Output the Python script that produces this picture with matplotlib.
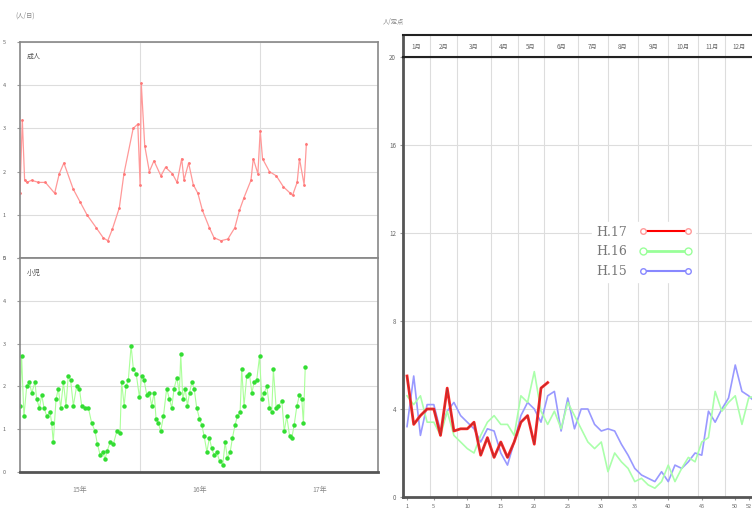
import matplotlib
matplotlib.use("Agg")
import matplotlib.pyplot as plt
from matplotlib.lines import Line2D

plt.rcParams['font.family'] = ['Noto Sans CJK JP', 'DejaVu Sans']

# --- Left chart: weekly counts since week 1 of H15 ---
adult_weeks = [0, 1, 2, 3, 5, 8, 11, 15, 17, 19, 23, 26, 29, 33, 36, 38, 40, 43, 45,
               49, 51, 52, 52.5, 54, 56, 58, 61, 63, 66, 68, 70, 71, 73, 75, 77, 79,
               82, 84, 87, 90, 93, 95, 97, 100, 101, 103, 104, 105, 108, 111, 114,
               117, 118, 120, 121, 123, 124]
adult_vals = [1.5, 3.2, 1.8, 1.75, 1.8, 1.75, 1.75, 1.5, 1.95, 2.2, 1.6, 1.3, 1.0, 0.7,
              0.47, 0.4, 0.67, 1.16, 1.95, 3.0, 3.1, 1.7, 4.05, 2.6, 2.0, 2.25, 1.9,
              2.1, 1.95, 1.75, 2.3, 1.8, 2.2, 1.7, 1.5, 1.1, 0.7, 0.47, 0.4, 0.44,
              0.7, 1.1, 1.4, 1.8, 2.3, 1.95, 2.95, 2.3, 2.0, 1.9, 1.65, 1.5, 1.45,
              1.75, 2.3, 1.7, 2.65]

child_weeks = [0.0, 0.7, 1.7, 2.9, 4.0, 5.1, 6.5, 7.2, 8.4, 9.4, 10.4, 11.6, 13.0, 13.7,
               14.4, 15.6, 16.6, 17.6, 18.8, 19.9, 20.9, 21.9, 23.1, 24.5, 25.7, 26.7,
               28.2, 29.6, 31.0, 32.5, 33.5, 34.7, 35.8, 36.8, 37.8, 39.0, 40.4, 41.9,
               43.3, 44.0, 45.1, 45.9, 46.9, 48.1, 49.1, 50.3, 51.7, 52.7, 53.7, 54.9,
               56.0, 57.0, 58.1, 58.9, 59.9, 60.9, 62.1, 63.5, 64.7, 65.7, 66.7, 67.9,
               69.0, 69.6, 70.5, 71.5, 72.5, 73.4, 74.4, 75.4, 76.5, 77.7, 78.7, 79.7,
               80.9, 82.0, 83.0, 84.0, 85.2, 86.4, 87.8, 88.8, 89.8, 91.0, 92.0, 93.1,
               94.1, 95.3, 96.0, 97.0, 98.2, 99.3, 100.4, 101.4, 102.5, 103.7, 104.7,
               105.7, 106.9, 108.0, 109.0, 109.7, 110.9, 111.9, 113.4, 114.4, 115.5,
               116.7, 117.7, 118.7, 119.9, 121.0, 122.0, 122.7, 123.5]
child_vals = [1.55, 2.7, 1.3, 2.0, 2.1, 1.85, 2.1, 1.7, 1.5, 1.8, 1.5, 1.3, 1.4, 1.15,
              0.7, 1.7, 1.95, 1.5, 2.1, 1.55, 2.25, 2.15, 1.55, 2.0, 1.95, 1.55, 1.5,
              1.5, 1.15, 0.95, 0.65, 0.4, 0.47, 0.3, 0.5, 0.7, 0.65, 0.95, 0.9, 2.1,
              1.55, 2.0, 2.15, 2.95, 2.4, 2.3, 1.75, 2.25, 2.15, 1.8, 1.85, 1.55, 1.85,
              1.25, 1.15, 0.95, 1.3, 1.95, 1.7, 1.5, 1.95, 2.2, 1.85, 2.75, 1.7, 1.95,
              1.55, 1.85, 2.1, 1.95, 1.5, 1.25, 1.1, 0.85, 0.47, 0.8, 0.55, 0.4, 0.47,
              0.25, 0.17, 0.7, 0.32, 0.47, 0.8, 1.1, 1.3, 1.4, 2.4, 1.55, 2.25, 2.3,
              1.85, 2.1, 2.15, 2.7, 1.7, 1.85, 2.0, 1.5, 1.4, 2.4, 1.5, 1.55, 1.65,
              0.95, 1.3, 0.85, 0.8, 1.1, 1.55, 1.8, 1.7, 1.15, 2.45]

year_labels = ['15年', '16年', '17年']
year_edges = [52, 104]

# --- Right chart: per-sentinel weekly counts by season ---
h17 = [5.5, 3.3, 3.7, 4.0, 4.0, 2.8, 4.95, 3.0, 3.1, 3.1, 3.4, 1.9, 2.7, 1.8, 2.5, 1.8,
       2.5, 3.4, 3.7, 2.4, 4.95, 5.2]
h16 = [4.6, 4.2, 4.6, 3.4, 3.4, 2.8, 3.9, 2.8, 2.5, 2.2, 2.0, 2.8, 3.4, 3.7, 3.3, 3.3,
       2.8, 4.6, 4.3, 5.7, 3.9, 3.3, 3.9, 3.1, 4.3, 3.7, 3.1, 2.5, 2.2, 2.5, 1.15, 2.0,
       1.6, 1.3, 0.7, 0.85, 0.55, 0.4, 0.7, 1.45, 0.7, 1.3, 1.8, 1.6, 2.5, 2.7, 4.8,
       3.9, 4.3, 4.6, 3.3, 4.5, 4.6]
h15 = [3.2, 5.5, 2.8, 4.2, 4.2, 3.0, 3.9, 4.3, 3.7, 3.4, 3.1, 2.5, 3.1, 3.0, 2.0, 1.45,
       2.5, 3.7, 4.3, 4.0, 3.4, 4.6, 4.8, 3.0, 4.5, 3.1, 4.0, 4.0, 3.3, 3.0, 3.1, 3.0,
       2.4, 1.9, 1.3, 1.0, 0.85, 0.7, 1.15, 0.7, 1.45, 1.3, 1.6, 2.0, 1.9, 3.9, 3.4,
       4.0, 4.5, 6.0, 4.8, 4.6, 4.3]
week_ticks = [1, 5, 10, 15, 20, 25, 30, 35, 40, 45, 50, 52]
month_labels = ['1月', '2月', '3月', '4月', '5月', '6月', '7月', '8月', '9月', '10月', '11月', '12月']
month_edges = [4.5, 8.5, 13.5, 17.5, 21.5, 26.5, 31, 35.5, 40, 44.5, 48.5]

W, H = 752, 517
fig = plt.figure(figsize=(W / 100, H / 100), dpi=100)


def box(x0, y0, x1, y1):
    return [x0 / W, 1 - y1 / H, (x1 - x0) / W, (y1 - y0) / H]


GRID = '#dddddd'
TXT = '#666666'

ax_top = fig.add_axes(box(20, 42, 378, 258))
ax_bot = fig.add_axes(box(20, 258, 378, 472))
for ax in (ax_top, ax_bot):
    ax.set_xlim(0, 155)
    ax.set_ylim(0, 5)
    ax.set_yticks(range(6))
    ax.set_yticklabels([str(v) for v in range(6)], fontsize=4, color=TXT)
    ax.tick_params(axis='y', length=2, pad=8, color='#999999')
    ax.grid(axis='y', color=GRID, lw=0.8)
    for e in year_edges:
        ax.axvline(e, color=GRID, lw=0.8)
    for s in ax.spines.values():
        s.set_color('#888888')
        s.set_linewidth(1.2)
ax_top.set_xticks([])
ax_bot.set_xticks([26, 78, 130])
ax_bot.set_xticklabels(year_labels, fontsize=5, color='#888888')
ax_bot.tick_params(axis='x', length=0, pad=10)
ax_bot.spines['bottom'].set_color('#555555')
ax_bot.spines['bottom'].set_linewidth(2)

ax_top.plot(adult_weeks, adult_vals, color='#ff9999', lw=0.9, marker='.', ms=2,
            mfc='#ff7777', mec='#ff7777')
ax_bot.plot(child_weeks, child_vals, color='#aaff99', lw=0.8, marker='o', ms=2.2,
            mfc='#33dd33', mec='#33dd33')
ax_top.text(0.02, 0.95, '成人', transform=ax_top.transAxes, fontsize=5, color='#555555', va='top')
ax_bot.text(0.02, 0.95, '小児', transform=ax_bot.transAxes, fontsize=5, color='#555555', va='top')
fig.text(15 / W, 1 - 16 / H, '(人/日)', fontsize=4.5, color='#888888', va='center')

# --- Right chart ---
ax = fig.add_axes(box(403, 57, 752, 497))
ax.set_xlim(0.4, 52.5)
ax.set_ylim(0, 20)
ax.set_yticks([0, 4, 8, 12, 16, 20])
ax.set_yticklabels(['0', '4', '8', '12', '16', '20'], fontsize=4.5, color=TXT)
ax.set_xticks(week_ticks)
ax.set_xticklabels([str(w) for w in week_ticks], fontsize=4, color=TXT)
ax.tick_params(length=2, color='#999999', pad=3)
ax.grid(axis='y', color=GRID, lw=0.8)
for e in month_edges:
    ax.axvline(e, color=GRID, lw=0.8)
for name, s in ax.spines.items():
    s.set_color('#555555')
    s.set_linewidth(2)
ax.spines['right'].set_visible(False)
ax.spines['top'].set_color('#222222')
ax.spines['top'].set_linewidth(1.5)

weeks15 = list(range(1, len(h15) + 1))
weeks16 = list(range(1, len(h16) + 1))
weeks17 = list(range(1, len(h17) + 1))
ax.plot(weeks15, h15, color='#9999ff', lw=1.2, zorder=2)
ax.plot(weeks16, h16, color='#aaffaa', lw=1.2, zorder=2)
ax.plot(weeks17, h17, color='#ff2222', lw=2.0, zorder=3)
ax.plot(weeks17, h17, color='#aa3333', lw=0.6, zorder=4)

handles = [
    Line2D([], [], color='#ff0000', lw=1.5, marker='o', ms=4, mfc='white', mec='#ff9999'),
    Line2D([], [], color='#99ff99', lw=2, marker='o', ms=5, mfc='white', mec='#99ff99'),
    Line2D([], [], color='#8888ff', lw=1.5, marker='o', ms=4, mfc='white', mec='#8888ff'),
]
leg = ax.legend(handles, ['H.17', 'H.16', 'H.15'], loc='center', bbox_to_anchor=(0.69, 0.557),
                markerfirst=False, numpoints=2, handlelength=4.2, frameon=True, framealpha=1,
                edgecolor='white', labelspacing=0.55, handletextpad=1.0,
                borderpad=0.3, prop={'family': 'DejaVu Serif', 'size': 9})
for t in leg.get_texts():
    t.set_color('#777777')

# header band with month names
hd = fig.add_axes(box(403, 35, 752, 57))
hd.set_xlim(0.4, 52.5)
hd.set_ylim(0, 1)
hd.set_xticks([])
hd.set_yticks([])
edges = [0.4] + month_edges + [52.5]
for i, m in enumerate(month_labels):
    hd.text((edges[i] + edges[i + 1]) / 2, 0.45, m, ha='center', va='center', fontsize=4.5, color=TXT)
for e in month_edges:
    hd.axvline(e, color='#dddddd', lw=0.8)
for name, s in hd.spines.items():
    s.set_color('#222222')
    s.set_linewidth(1.5)
hd.spines['right'].set_visible(False)
hd.spines['left'].set_color('#555555')
hd.spines['left'].set_linewidth(2)
fig.text(383 / W, 1 - 22 / H, '人/定点', fontsize=4.5, color='#888888', va='center')

fig.savefig('out.png', dpi=100)
